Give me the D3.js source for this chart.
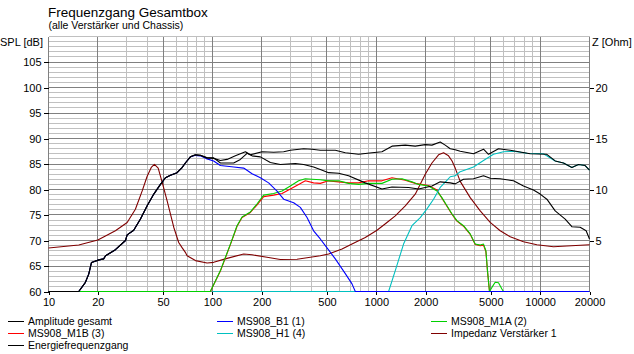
<!DOCTYPE html>
<html><head><meta charset="utf-8">
<script src="https://cdn.jsdelivr.net/npm/d3@7"></script>
<style>
html,body{margin:0;padding:0;background:#fff;}
svg{display:block;font-family:"Liberation Sans",Arial,sans-serif;}
</style></head>
<body><svg id="c" width="634" height="354"></svg>
<script>
const title = "Frequenzgang Gesamtbox";
const subtitle = "(alle Verstärker und Chassis)";
const splTicks = [60,65,70,75,80,85,90,95,100,105];
const zTicks = [5,10,15,20];
const freqTicks = [10,20,50,100,200,500,1000,2000,5000,10000,20000];

// [frequency Hz, SPL dB]
const amplitudeGesamt = [[10,60],[15.3,60],[16.8,61.8],[17.6,63.4],[18.3,65.7],[20.3,66.2],[21.7,66.4],[22.3,67],[25.6,68.2],[29.5,70],[30.2,71.1],[33.1,72],[36.4,74.2],[40,76.8],[43.9,79.1],[48.2,81],[51.7,82.3],[55.5,82.8],[60.9,83.3],[65.3,84.3],[68.4,85.2],[73.4,86.4],[78.8,86.8],[84.5,86.7],[92.8,86.2],[101.8,86.1],[111.9,85.7],[122.9,85.9],[138.1,86.6],[159,87.4],[170.5,86.8],[201,87.4],[236.5,87.3],[272.2,87.4],[299,87.7],[360.4,88],[405.3,87.9],[455.4,87.7],[562.3,87.7],[647.1,87.2],[780,86.9],[941.4,87.2],[1083,87.4],[1247,88.5],[1503,88.7],[1729,88.5],[1990,88.8],[2186,88.7],[2456,89.3],[2634,88.7],[2827,88.0],[3031,87.8],[3252,87.5],[3920,87.0],[4511,87.9],[4839,86.9],[5568,88.0],[6565,87.7],[8690,87.0],[10987,86.9],[12349,85.6],[13873,85.2],[15609,84.3],[17125,84.9],[18810,84.7],[20000,83.8]];
const energiefrequenzgang = [[10,60],[15.3,60],[16.8,61.8],[17.6,63.4],[18.3,65.7],[20.3,66.2],[21.7,66.4],[22.3,67],[25.6,68.2],[29.5,70],[30.2,71.1],[33.1,72],[36.4,74.2],[40,76.8],[43.9,79.1],[48.2,81],[51.7,82.3],[55.5,82.8],[60.9,83.3],[65.3,84.3],[68.4,85.2],[73.4,86.4],[78.8,86.8],[84.5,86.7],[92.8,86.2],[101.8,86.2],[111.9,85.2],[134.9,85.2],[148.1,85.9],[162.8,87.1],[174.6,86.6],[196.2,86.4],[225.8,85.3],[259.8,84.9],[320.7,85.1],[360.4,84.9],[414.6,84.4],[455.4,83.9],[511.9,83.3],[589,83.2],[677.8,82.7],[857,81.3],[1083,80.1],[1247,80.5],[1574,80.4],[1811,80.1],[2186,80.7],[2456,81.5],[2827,81.3],[3031,81.1],[3406,82.0],[3920,82.1],[4511,82.7],[4955,82.2],[5703,82.1],[6874,81.7],[7912,80.7],[9101,79.9],[10000,79.1],[10987,78.1],[12349,75.8],[14209,74.2],[15609,72.7],[17535,72.6],[19076,71.9],[20000,70.3]];
const ms908B1 = [[10,60],[15.3,60],[16.8,61.8],[17.6,63.4],[18.3,65.7],[20.3,66.2],[21.7,66.4],[22.3,67],[25.6,68.2],[29.5,70],[30.2,71.1],[33.1,72],[36.4,74.2],[40,76.8],[43.9,79.1],[48.2,81],[51.7,82.3],[55.5,82.8],[60.9,83.3],[65.3,84.3],[68.4,85.2],[73.4,86.4],[78.8,86.7],[84.5,86.6],[92.8,86.0],[101.8,85.6],[111.9,84.7],[134.9,84.4],[155.2,84.2],[174.6,83.1],[196.2,82.3],[220.4,81.3],[248,79.7],[272.2,78.1],[313.2,77.4],[344,76.5],[378,74.5],[414.6,71.9],[455.4,70.3],[488.7,69.0],[562.3,66.4],[647.1,63.5],[711,61.5],[744.7,60],[20000,60]];
const ms908M1A = [[10,60],[97.2,60],[111.9,64.1],[128.8,69.3],[141.4,72.9],[151.7,74.6],[170.5,75.6],[187.4,77.2],[205.5,78.9],[236.5,79.2],[266.1,79.7],[299,80.7],[335.9,81.7],[369.1,82.1],[405.3,82.0],[455.4,81.9],[511.9,81.7],[589,81.7],[677.8,81.2],[780,81.0],[897.5,81.2],[1083,81.2],[1247,82.0],[1435,82.1],[1651,81.5],[1811,81.0],[2084,80.7],[2345,79.7],[2515,78.4],[2698,76.8],[2900,75.2],[3105,73.9],[3406,72.9],[3743,71.3],[4016,69.3],[4307,69.1],[4511,69.3],[4666,68],[4772,64.1],[4907,60],[5075,60.8],[5316,61.8],[5568,61.7],[5841,60.5],[5973,60],[20000,60]];
const ms908M1B = [[10,60],[97.2,60],[111.9,64.0],[128.8,69.2],[141.4,72.8],[151.7,74.5],[170.5,75.5],[187.4,77.0],[205.5,78.6],[236.5,78.9],[266.1,79.2],[299,80.1],[335.9,81.0],[369.1,81.7],[414.6,81.3],[455.4,81.2],[511.9,81.7],[677.8,81.3],[780,81.3],[897.5,81.7],[1083,81.7],[1247,82.3],[1503,81.8],[1729,81.2],[2084,80.8],[2345,79.9],[2515,78.3],[2698,76.7],[2900,75.1],[3105,73.8],[3406,72.8],[3743,71.2],[4016,69.2],[4307,69.0],[4511,69.1],[4666,67.8],[4772,63.9],[4907,60],[20000,60]];
const ms908H1 = [[100,60],[1189,60],[1306,64.1],[1467,69.3],[1651,72.9],[1855,74.5],[2038,76.2],[2236,78.1],[2456,80.4],[2698,81.8],[2827,82.5],[3031,82.7],[3252,83.5],[3920,84.4],[4511,85.7],[5190,86.9],[5973,87.4],[6874,87.5],[8297,87.1],[10474,87.0],[12349,85.6],[13873,85.2],[15609,84.3],[17125,84.9],[18810,84.7],[20000,83.8]];
// [frequency Hz, impedance Ohm]
const impedanz = [[10,4.27],[15.3,4.56],[20,5.05],[25.6,5.96],[30.2,6.77],[33.9,8.07],[37.3,9.86],[40,11.3],[42.5,12.2],[44.3,12.47],[46.7,12.1],[49.4,10.7],[52.9,8.9],[58.1,6.3],[62.3,4.8],[65.3,4.3],[68.4,3.84],[70.1,3.5],[78.8,3.03],[92.8,2.8],[101.8,2.86],[122.9,3.25],[155.2,3.68],[174.6,3.6],[215.5,3.35],[259.8,3.13],[328.5,3.16],[395.8,3.35],[455.4,3.5],[511.9,3.68],[617.9,4.17],[711,4.66],[857,5.3],[1010,6.0],[1162,6.77],[1306,7.42],[1503,8.4],[1729,9.54],[1990,11.5],[2186,12.6],[2399,13.4],[2573,13.6],[2760,13.3],[2900,12.8],[3031,12.1],[3252,10.8],[3743,9.2],[4307,7.9],[4955,6.77],[5703,5.96],[6565,5.37],[7912,4.88],[9548,4.59],[12057,4.39],[14554,4.46],[20000,4.59]];

const legendNames = ["Amplitude gesamt","MS908_B1 (1)","MS908_M1A (2)","MS908_M1B (3)","MS908_H1 (4)","Impedanz Verstärker 1","Energiefrequenzgang"];
const legendColors = ["#000000","#0000ff","#00d000","#ff0000","#00c0c0","#800000","#000000"];

const svg = d3.select("#c");
const L = 48.5, R = 589.5, T = 36.5, B = 291.5;
const x = d3.scaleLog().domain([10,20000]).range([L,R]);
const y = d3.scaleLinear().domain([60,110]).range([B,T]);
const yz = d3.scaleLinear().domain([0,25]).range([B,T]);
const py = v => Math.floor(v) + 0.5;

// grid
const g = svg.append("g").attr("shape-rendering","crispEdges");
const minorF = [];
for (let d=10; d<=10000; d*=10) for (let m=1; m<=9; m++) { const f=d*m; if (f<=20000) minorF.push(f); }
minorF.push(20000);
const hl = d3.range(60,111,1);
g.selectAll(".hm").data(hl.filter(v=>v%5!==0 || v===110)).enter().append("line")
  .attr("x1",L).attr("x2",R).attr("y1",d=>py(y(d))).attr("y2",d=>py(y(d)))
  .attr("stroke","#c0c0c0");
g.selectAll(".vm").data(minorF.filter(f=>!freqTicks.includes(f))).enter().append("line")
  .attr("x1",d=>py(x(d))).attr("x2",d=>py(x(d))).attr("y1",T).attr("y2",B)
  .attr("stroke","#c0c0c0");
g.selectAll(".hM").data(hl.filter(v=>v%5===0 && v!==110)).enter().append("line")
  .attr("x1",L).attr("x2",R).attr("y1",d=>py(y(d))).attr("y2",d=>py(y(d)))
  .attr("stroke","#808080");
g.selectAll(".vM").data(freqTicks).enter().append("line")
  .attr("x1",d=>py(x(d))).attr("x2",d=>py(x(d))).attr("y1",T).attr("y2",B)
  .attr("stroke","#808080");

// axes
const fmt = d3.format("d");
const axL = svg.append("g").attr("transform",`translate(${L},0)`)
  .call(d3.axisLeft(y).tickValues(splTicks).tickSize(5).tickPadding(2).tickFormat(fmt));
const axR = svg.append("g").attr("transform",`translate(${R},0)`)
  .call(d3.axisRight(yz).tickValues(zTicks).tickSize(4).tickPadding(2).tickFormat(fmt));
const axB = svg.append("g").attr("transform",`translate(0,${B})`)
  .call(d3.axisBottom(x).tickValues(freqTicks).tickSize(3).tickPadding(4).tickFormat(fmt));
[axL,axR,axB].forEach(a=>{
  a.select(".domain").remove();
  a.selectAll(".tick line").attr("stroke","#000").attr("shape-rendering","crispEdges");
  a.selectAll("text").attr("font-size","11px").attr("fill","#000")
   .attr("font-family",'"Liberation Sans",Arial,sans-serif');
});

// curves
svg.append("clipPath").attr("id","pc").append("rect")
  .attr("x",L-1).attr("y",T-1).attr("width",R-L+2).attr("height",B-T+2);
const plot = svg.append("g").attr("clip-path","url(#pc)");
const lineSPL = d3.line().x(d=>x(d[0])).y(d=>y(Math.max(60,d[1])));
const lineZ = d3.line().x(d=>x(d[0])).y(d=>yz(d[1]));
function draw(data, gen, color){
  plot.append("path").datum(data).attr("d",gen).attr("fill","none")
    .attr("stroke",color).attr("stroke-width",1.1).attr("stroke-linejoin","round");
}
draw(impedanz, lineZ, legendColors[5]);
draw(ms908M1B, lineSPL, legendColors[3]);
draw(ms908M1A, lineSPL, legendColors[2]);
draw(ms908H1, lineSPL, legendColors[4]);
draw(ms908B1, lineSPL, legendColors[1]);
draw(energiefrequenzgang, lineSPL, legendColors[6]);
draw(amplitudeGesamt, lineSPL, legendColors[0]);

// titles
const txt = (s,xx,yy,size,anchor)=>svg.append("text").text(s).attr("x",xx).attr("y",yy)
  .attr("font-size",size).attr("text-anchor",anchor||"start").attr("fill","#000");
txt(title, 48, 17, "13.5px");
txt(subtitle, 48.5, 29, "10.5px");
txt("SPL [dB]", 0, 46, "11px");
txt("Z [Ohm]", 592, 46, "11px");

// legend
const colX = [8, 217, 431];
const rowY = [321, 333, 345];
const leg = svg.append("g");
legendNames.forEach((name,i)=>{
  const lx = colX[i % 3], ly = rowY[Math.floor(i / 3)];
  leg.append("rect").attr("x",lx).attr("y",ly).attr("width",16).attr("height",1)
    .attr("fill",legendColors[i]).attr("shape-rendering","crispEdges");
  leg.append("text").text(name).attr("x",lx+20).attr("y",ly+4)
    .attr("font-size","10.5px").attr("fill","#000");
});
</script></body></html>
